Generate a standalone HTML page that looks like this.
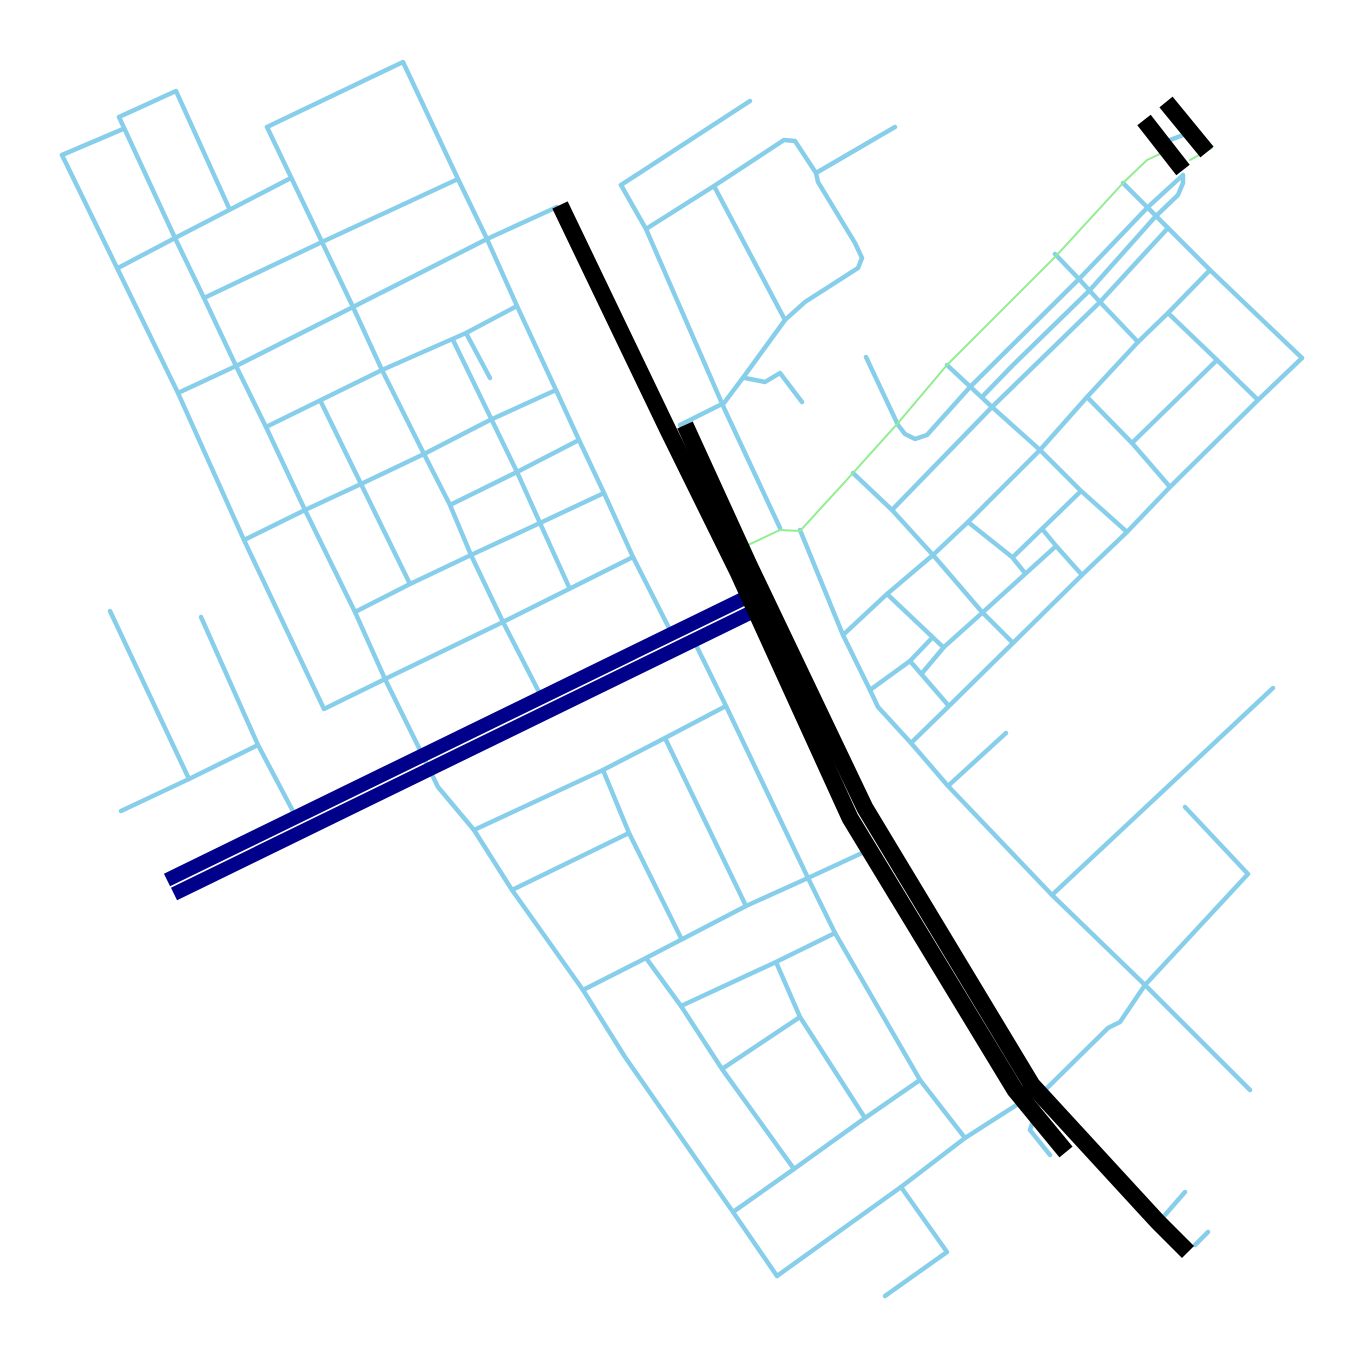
<!DOCTYPE html>
<html><head><meta charset="utf-8"><title>Street network</title>
<style>html,body{margin:0;padding:0;background:#fff;}svg{display:block;}</style></head>
<body>
<svg id="map" width="1362" height="1359" viewBox="0 0 1362 1359" xmlns="http://www.w3.org/2000/svg">
<g id="streets"></g>
<g id="paths"></g>
<g id="navy"></g>
<g id="hw"></g>
</svg>
<script>
const streets = [
[[62,155],[123,129]],
[[62,155],[178,393],[244,540],[324,709],[385,679],[503,622],[633,557]],
[[119,117],[176,91],[229,208]],
[[119,117],[175,238],[204,298],[236,366],[266,427],[305,510],[355,612],[385,679],[420,750],[438,787],[474,830],[512,890],[583,990],[625,1057],[733,1212],[777,1276]],
[[118,268],[175,238],[289,179]],
[[267,127],[403,62],[458,179],[487,239],[517,306],[556,390],[579,440],[604,493],[633,557],[670,630]],
[[267,127],[322,242],[353,307],[382,370],[424,454],[450,505],[471,555],[503,622],[540,694]],
[[204,298],[322,242],[458,179]],
[[178,393],[236,366],[353,307],[487,239],[557,207]],
[[266,427],[382,370],[466,333],[517,306]],
[[466,333],[490,378]],
[[453,340],[517,472],[540,523],[569,587]],
[[321,402],[361,484],[410,584]],
[[244,540],[305,510],[361,484],[424,454],[490,420],[556,390]],
[[450,505],[517,472],[579,440]],
[[355,612],[410,584],[471,555],[540,523],[604,493]],
[[110,611],[189,779]],
[[201,617],[258,745],[295,815]],
[[121,811],[189,779],[258,745]],
[[474,830],[603,770],[665,738],[726,706]],
[[512,890],[629,833]],
[[603,770],[629,833],[681,938]],
[[665,738],[746,906]],
[[696,645],[726,706],[808,878],[835,933],[920,1080],[965,1138]],
[[583,990],[646,958],[746,906],[808,878],[862,853]],
[[646,958],[681,1006],[722,1069],[794,1169]],
[[681,1006],[776,962],[835,933]],
[[776,962],[800,1017],[865,1118]],
[[722,1069],[800,1017]],
[[733,1212],[794,1169],[865,1118],[920,1080]],
[[777,1276],[901,1187],[965,1138],[1040,1090]],
[[901,1187],[947,1252],[885,1296]],
[[621,185],[750,101]],
[[621,185],[646,229],[724,408],[780,528]],
[[646,229],[714,186],[784,140],[795,141],[816,173],[818,182],[855,243],[862,258],[858,268],[805,302],[785,320],[745,375],[724,403],[680,425]],
[[714,186],[785,320]],
[[816,173],[895,127]],
[[745,378],[765,382],[780,373],[802,402]],
[[800,530],[843,635],[870,690],[878,707],[911,743],[948,786],[1052,895],[1145,985],[1250,1090]],
[[853,473],[892,510],[933,555],[982,612],[1013,643]],
[[866,357],[898,425],[905,434],[915,439],[927,435],[970,387],[1080,278],[1148,207],[1183,175]],
[[982,397],[1013,365],[1090,290],[1155,217],[1178,195],[1183,183],[1183,175]],
[[892,510],[992,407],[1100,302],[1168,228]],
[[947,365],[992,407],[1040,450],[1080,490],[1127,532]],
[[1055,254],[1078,278],[1100,302],[1138,342]],
[[1123,183],[1150,210],[1168,228],[1210,270],[1302,358]],
[[933,555],[968,522],[1040,450],[1087,397],[1138,342],[1168,313],[1210,270]],
[[1087,397],[1132,443],[1170,487]],
[[1168,313],[1217,360],[1258,400]],
[[1132,443],[1217,360]],
[[1302,358],[1258,400],[1170,487],[1127,532],[1082,575],[1013,643],[949,706],[911,743]],
[[968,522],[1012,557],[1025,573]],
[[1013,557],[1080,492]],
[[1043,530],[1057,547],[1082,575]],
[[1055,547],[982,613],[944,647],[923,672]],
[[843,635],[887,594],[933,555]],
[[887,594],[943,647]],
[[870,690],[910,661],[931,639]],
[[910,661],[948,705]],
[[948,786],[1006,733]],
[[1052,895],[1273,688]],
[[1185,807],[1248,874],[1145,985],[1120,1022],[1108,1028],[1040,1095]],
[[1040,1100],[1030,1130],[1050,1155]],
[[1165,1215],[1185,1192]],
[[1195,1245],[1208,1232]],
[[1170,140],[1186,134]]
];
const footpaths = [
[[748,545],[780,530],[800,531],[853,473],[898,423],[947,365],[1056,256],[1123,183],[1147,160],[1162,153]],
[[1190,160],[1212,148]]
];
const primaryRoad = [
[[167,880],[747,597]],
[[174,894],[754,611]]
];
const motorway = [
[[560,205],[668,430],[738,572],[850,818],[1015,1090],[1066,1152]],
[[685,425],[749,565],[865,808],[1032,1085],[1158,1222],[1188,1252]],
[[1144,120],[1183,170]],
[[1166,102],[1207,152]]
];
function draw(groupId, lines, color, width, cap, name){
  const g = document.getElementById(groupId);
  lines.forEach(function(pts){
    const el = document.createElementNS('http://www.w3.org/2000/svg','polyline');
    el.setAttribute('points', pts.map(function(p){return p[0]+','+p[1];}).join(' '));
    el.setAttribute('fill','none');
    el.setAttribute('stroke',color);
    el.setAttribute('stroke-width',width);
    el.setAttribute('stroke-linejoin','round');
    el.setAttribute('stroke-linecap',cap);
    
    
    g.appendChild(el);
  });
}
draw('streets', streets, '#87ceeb', 4.5, 'round', 'street-segment');
draw('paths', footpaths, '#90ee90', 2, 'round', 'footpath-segment');
draw('navy', primaryRoad, '#00008b', 14, 'butt', 'primary-road-segment');
draw('hw', motorway, '#000000', 17, 'butt', 'motorway-segment');
</script>
</body></html>
